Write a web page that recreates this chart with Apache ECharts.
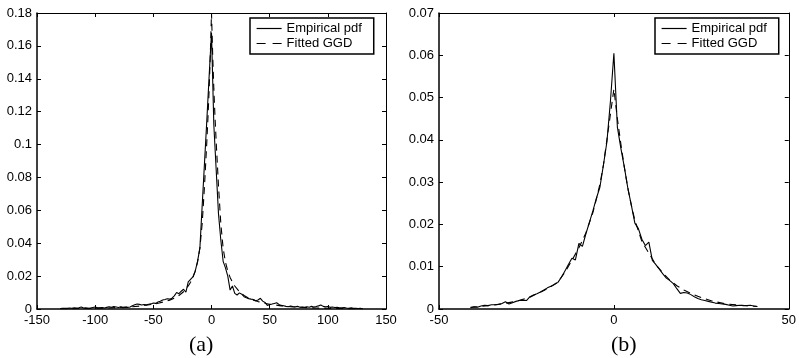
<!DOCTYPE html>
<html>
<head>
<meta charset="utf-8">
<script src="https://cdn.jsdelivr.net/npm/echarts@6/dist/echarts.min.js"></script>
<style>html,body{margin:0;padding:0;background:#fff;}#c{width:799px;height:358px;}</style>
</head>
<body>
<div id="c"></div>
<script>
// ---- Panel (a) ----
var xEmpA = [-130,-128,-126,-124,-122,-120,-118,-116,-114,-112,-110,-108,-106,-104,-102,-100,-98,-96,-94,-92,-90,-88,-86,-84,-82,-80,-78,-76,-74,-72,-70,-68,-66,-64,-62,-60,-58,-56,-54,-52,-50,-48,-46,-44,-42,-40,-38,-36,-34,-32,-30,-28,-26,-24,-22,-20,-18,-16,-14,-12,-10,-8,-6,-4,-2,0,2,4,6,8,10,12,14,16,18,20,22,24,26,28,30,32,34,36,38,40,42,44,46,48,50,52,54,56,58,60,62,64,66,68,70,72,74,76,78,80,82,84,86,88,90,92,94,96,98,100,102,104,106,108,110,112,114,116,118,120,122,124,126,128,130];
var empA = [
0.0003,0.0004,0.0005,0.0004,0.0006,0.0005,0.0007,0.0006,0.0008,0.0012,
0.0006,0.0007,0.0005,0.0006,0.0009,0.0012,0.0008,0.0007,0.0009,0.0006,
0.0010,0.0014,0.0011,0.0015,0.0012,0.0009,0.0013,0.0008,0.0011,0.0010,
0.0012,0.0020,0.0026,0.0030,0.0028,0.0024,0.0027,0.0025,0.0029,0.0031,
0.0036,0.0034,0.0042,0.0047,0.0055,0.0058,0.0062,0.0060,0.0066,0.0080,
0.0100,0.0093,0.0108,0.0120,0.0102,0.0165,0.0180,0.0195,0.0230,0.0290,
0.0370,0.0630,0.0890,0.1150,0.1420,
0.1680,
0.1120,0.0850,0.0580,0.0420,0.0290,0.0250,0.0200,0.0115,0.0140,0.0095,
0.0085,0.0098,0.0090,0.0075,0.0068,0.0063,0.0060,0.0058,0.0050,0.0055,
0.0065,0.0048,0.0040,0.0022,0.0028,0.0030,0.0034,0.0038,0.0028,0.0022,
0.0020,0.0016,0.0014,0.0018,0.0015,0.0013,0.0016,0.0011,0.0012,0.0010,
0.0014,0.0011,0.0016,0.0012,0.0015,0.0019,0.0024,0.0016,0.0013,0.0015,
0.0010,0.0012,0.0009,0.0011,0.0008,0.0007,0.0009,0.0006,0.0005,0.0007,
0.0004,0.0005,0.0003,0.0004,0.0002];
var xGgdA = [-130,-120,-110,-100,-90,-80,-70,-60,-50,-45,-40,-36,-32,-28,-24,-20,-18,-16,-14,-12,-10,-8,-6,-4,-3,-2,-1,0,1,2,3,4,6,8,10,12,14,16,18,20,24,28,32,36,40,45,50,60,70,80,90,100,110,120,130];
var ggdA = [0.00015,0.0002,0.0003,0.00045,0.0006,0.0009,0.0013,0.0019,0.0029,0.0036,0.0045,0.0054,0.0066,0.0082,0.0105,0.0140,0.0163,0.0192,0.0230,0.0285,0.0370,0.0520,0.0750,0.1020,0.1170,0.1340,0.1550,0.1800,
0.1550,0.1340,0.1170,0.1020,0.0750,0.0520,0.0370,0.0285,0.0230,0.0192,0.0163,0.0140,0.0105,0.0082,0.0066,0.0054,0.0045,0.0036,0.0029,0.0019,0.0013,0.0009,0.0006,0.00045,0.0003,0.0002,0.00015];

// ---- Panel (b) ----
var xEmpB = [-41,-40,-39,-38,-37,-36,-35,-34,-33,-32,-31,-30,-29,-28,-27,-26,-25,-24,-23,-22,-21,-20,-19,-18,-17,-16,-15,-14,-13,-12,-11,-10,-9,-8,-7,-6,-5,-4,-3,-2,-1,0,1,2,3,4,5,6,7,8,9,10,11,12,13,14,15,16,17,18,19,20,21,22,23,24,25,26,27,28,29,30,31,32,33,34,35,36,37,38,39,40,41];
var empB = [
0.0003,0.0005,0.0004,0.0007,0.0009,0.0008,0.0010,0.0010,0.0011,0.0013,
0.0017,0.0012,0.0015,0.0018,0.0020,0.0021,0.0020,0.0029,0.0033,0.0036,
0.0040,0.0045,0.0050,0.0054,0.0058,0.0063,0.0075,0.0090,0.0105,0.0120,
0.0116,0.0155,0.0148,0.0178,0.0205,0.0232,0.0262,0.0288,0.0340,0.0395,
0.0490,
0.0605,
0.0430,0.0380,0.0335,0.0285,0.0245,0.0203,0.0190,0.0165,0.0150,0.0158,
0.0115,0.0105,0.0094,0.0083,0.0073,0.0067,0.0060,0.0048,0.0037,0.0039,
0.0038,0.0034,0.0029,0.0025,0.0022,0.0020,0.0018,0.0016,0.0014,0.0013,
0.0012,0.0011,0.0009,0.0007,0.0008,0.0009,0.0008,0.0008,0.0009,0.0007,
0.0006];
var xGgdB = [-41,-38,-36,-32,-28,-24,-20,-18,-16,-14,-12,-10,-8,-6,-5,-4,-3,-2,-1,0,1,2,3,4,5,6,7,8,10,12,14,16,18,20,22,24,28,32,36,41];
var ggdB = [0.0004,0.0006,0.0008,0.0012,0.0018,0.0028,0.0044,0.0053,0.0064,0.0087,0.0115,0.0145,0.0180,0.0228,0.0260,0.0295,0.0340,0.0400,0.0460,0.0520,0.0450,0.0390,0.0335,0.0285,0.0245,0.0210,0.0185,0.0160,0.0132,0.0105,0.0085,0.0068,0.0055,0.0045,0.0037,0.0030,0.0019,0.0012,0.0009,0.0006];

var legendNames = ['Empirical pdf', 'Fitted GGD'];
var captions = ['(a)', '(b)'];

function pairs(xs, ys) { return xs.map(function (x, i) { return [x, ys[i]]; }); }

var FONT = 'Liberation Sans, Arial, sans-serif';
function xAx(grid, min, max, interval, pos) {
  return {
    type: 'value', gridIndex: grid, min: min, max: max, interval: interval, position: pos,
    axisLine: { show: true, onZero: false, lineStyle: { color: '#000', width: pos === 'bottom' ? 1.5 : 1 } },
    axisTick: { show: true, inside: true, length: 4, lineStyle: { color: '#000' } },
    axisLabel: { show: pos === 'bottom', color: '#000', fontSize: 13, fontFamily: FONT, margin: 5 },
    splitLine: { show: false }
  };
}
function yAx(grid, min, max, interval, pos) {
  return {
    type: 'value', gridIndex: grid, min: min, max: max, interval: interval, position: pos,
    axisLine: { show: true, onZero: false, lineStyle: { color: '#000', width: pos === 'left' ? 1.5 : 1 } },
    axisTick: { show: true, inside: true, length: 4, lineStyle: { color: '#000' } },
    axisLabel: { show: pos === 'left', color: '#000', fontSize: 13, fontFamily: FONT, margin: 5 },
    splitLine: { show: false }
  };
}
function line(name, data, xi, yi, dashed) {
  return {
    type: 'line', name: name, data: data, xAxisIndex: xi, yAxisIndex: yi,
    symbol: 'none', showSymbol: false, animation: false, clip: true,
    lineStyle: { color: '#000', width: 1.1, type: dashed ? [7, 5] : 'solid' },
    itemStyle: { color: '#000' }
  };
}
function legend(left, top) {
  return {
    data: [
      { name: legendNames[0] },
      { name: legendNames[1], lineStyle: { type: [9, 7], width: 1.2, color: '#000' } }
    ],
    orient: 'vertical', left: left, top: top,
    backgroundColor: '#fff', borderColor: '#000', borderWidth: 1.5,
    padding: [4, 12, 4, 6], itemWidth: 25, itemHeight: 14, itemGap: 2,
    itemStyle: { opacity: 0 },
    lineStyle: { width: 1.2, color: '#000' },
    textStyle: { color: '#000', fontSize: 13, fontFamily: FONT },
    selectedMode: false
  };
}

var chart = echarts.init(document.getElementById('c'), null, { renderer: 'canvas' });
chart.setOption({
  animation: false,
  backgroundColor: '#fff',
  grid: [
    { left: 37, top: 13, width: 349, height: 296 },
    { left: 439, top: 13, width: 352, height: 296 }
  ],
  xAxis: [
    xAx(0, -150, 150, 50, 'bottom'), xAx(0, -150, 150, 50, 'top'),
    xAx(1, -50, 50, 50, 'bottom'), xAx(1, -50, 50, 50, 'top')
  ],
  yAxis: [
    yAx(0, 0, 0.18, 0.02, 'left'), yAx(0, 0, 0.18, 0.02, 'right'),
    yAx(1, 0, 0.07, 0.01, 'left'), yAx(1, 0, 0.07, 0.01, 'right')
  ],
  legend: [legend(250, 18), legend(655, 18)],
  series: [
    line(legendNames[0], pairs(xEmpA, empA), 0, 0, false),
    line(legendNames[1], pairs(xGgdA, ggdA), 0, 0, true),
    line(legendNames[0], pairs(xEmpB, empB), 2, 2, false),
    line(legendNames[1], pairs(xGgdB, ggdB), 2, 2, true)
  ],
  graphic: [
    { type: 'text', left: 189, top: 334, style: { text: captions[0], font: '22px "Liberation Serif", "Times New Roman", serif', fill: '#000' } },
    { type: 'text', left: 611, top: 334, style: { text: captions[1], font: '22px "Liberation Serif", "Times New Roman", serif', fill: '#000' } }
  ]
});
</script>
</body>
</html>
